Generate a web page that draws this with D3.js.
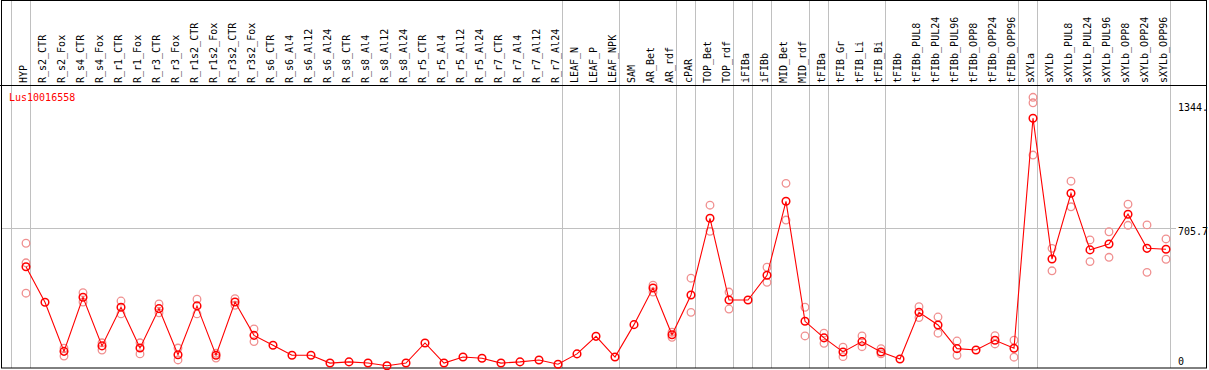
<!DOCTYPE html>
<html>
<head>
<meta charset="utf-8">
<script src="https://cdn.jsdelivr.net/npm/d3@7"></script>
<style>
  body { margin: 0; background: #fff; }
  text { font-family: "DejaVu Sans Mono", monospace; font-size: 10px; }
</style>
</head>
<body>
<div id="chart"></div>
<script>
// column labels
const samples = ["HYP", "R_s2_CTR", "R_s2_Fox", "R_s4_CTR", "R_s4_Fox", "R_r1_CTR", "R_r1_Fox",
  "R_r3_CTR", "R_r3_Fox", "R_r1s2_CTR", "R_r1s2_Fox", "R_r3s2_CTR", "R_r3s2_Fox", "R_s6_CTR",
  "R_s6_Al4", "R_s6_Al12", "R_s6_Al24", "R_s8_CTR", "R_s8_Al4", "R_s8_Al12", "R_s8_Al24",
  "R_r5_CTR", "R_r5_Al4", "R_r5_Al12", "R_r5_Al24", "R_r7_CTR", "R_r7_Al4", "R_r7_Al12", "R_r7_Al24",
  "LEAF_N", "LEAF_P", "LEAF_NPK", "SAM", "AR_Bet", "AR_rdf", "cPAR", "TOP_Bet", "TOP_rdf",
  "iFIBa", "iFIBb", "MID_Bet", "MID_rdf", "tFIBa", "tFIB_Gr", "tFIB_Li", "tFIB_Bi", "tFIBb",
  "tFIBb_PUL8", "tFIBb_PUL24", "tFIBb_PUL96", "tFIBb_OPP8", "tFIBb_OPP24", "tFIBb_OPP96",
  "sXYLa", "sXYLb", "sXYLb_PUL8", "sXYLb_PUL24", "sXYLb_PUL96", "sXYLb_OPP8", "sXYLb_OPP24", "sXYLb_OPP96"];

// number of columns in each tissue group
const groupSizes = [1, 28, 3, 3, 1, 2, 1, 1, 2, 1, 3, 7, 1, 7];

// mean expression
const means = [509, 327, 75, 352, 103, 301, 92, 294, 58, 308, 55, 328, 157, 106,
  55, 55, 15, 21, 15, 1, 15, 118, 15, 46, 40, 15, 21, 31, 9,
  62, 152, 46, 212, 400, 160, 364, 757, 338, 338, 465, 844, 229, 144, 72, 125, 72, 36,
  275, 210, 89, 82, 132, 91, 1270, 548, 885, 595, 625, 778, 603, 598];

// replicate values
const reps = [[629, 529, 373], [], [91, 51], [376, 328], [119, 82], [333, 267], [119, 62],
  [318, 273], [92, 31], [342, 267], [65, 41], [345, 311], [190, 125], [],
  [], [], [], [], [], [], [], [], [], [], [], [], [], [], [],
  [], [], [], [], [414, 379], [173, 147], [450, 275], [824, 690], [379, 292], [], [506, 429],
  [936, 748], [301, 154], [168, 116], [96, 48], [154, 99], [89, 62], [],
  [304, 248], [251, 168], [128, 55], [], [155, 113], [132, 45],
  [1377, 1349, 1081], [603, 488], [947, 816], [646, 535], [688, 557], [829, 721], [723, 480], [651, 547]];

// right side ticks
const ticks = [0, 705.7, 1344];
const tickLabels = ["0", "705.7", "1344."];

const title = "Lus10016558";

const width = 1209, height = 370;
const headerBottom = 85, plotBottom = 368;

const svg = d3.select("#chart")
  .append("svg")
  .attr("width", width)
  .attr("height", height);

const x = d3.scalePoint()
  .domain(samples)
  .range([26, 1166]);

const y = d3.scaleLinear()
  .domain([0, 1411.4])
  .range([366, 90.6]);

// group separators
let sepX = [x(samples[0]) - 14.5];
let idx = -1;
groupSizes.forEach(n => {
  idx += n;
  sepX.push(x(samples[idx]) + 4.5);
});

svg.append("g")
  .selectAll("line")
  .data(sepX)
  .enter()
  .append("line")
  .attr("x1", d => d)
  .attr("x2", d => d)
  .attr("y1", 0)
  .attr("y2", plotBottom)
  .attr("stroke", "#c0c0c0")
  .attr("stroke-width", 1);

// horizontal grid at the mid tick
svg.append("line")
  .attr("x1", 1)
  .attr("x2", 1176)
  .attr("y1", Math.round(y(ticks[1])) + 0.5)
  .attr("y2", Math.round(y(ticks[1])) + 0.5)
  .attr("stroke", "#c0c0c0");

// frame
svg.append("rect")
  .attr("x", 1.5)
  .attr("y", 0.5)
  .attr("width", 1205)
  .attr("height", plotBottom - 0.5)
  .attr("fill", "none")
  .attr("stroke", "black");

svg.append("line")
  .attr("x1", 0)
  .attr("x2", 1207)
  .attr("y1", headerBottom + 0.5)
  .attr("y2", headerBottom + 0.5)
  .attr("stroke", "black");

// column labels
svg.append("g")
  .selectAll("text")
  .data(samples)
  .enter()
  .append("text")
  .attr("transform", d => `translate(${x(d) + 1},${headerBottom - 2}) rotate(-90)`)
  .attr("fill", "black")
  .text(d => d);

// title
svg.append("text")
  .attr("x", 9)
  .attr("y", 101)
  .attr("fill", "red")
  .text(title);

// right labels
svg.append("g")
  .selectAll("text")
  .data(ticks)
  .enter()
  .append("text")
  .attr("x", 1178)
  .attr("y", (d, i) => i === 0 ? y(d) - 4 : y(d) + 4)
  .attr("dominant-baseline", "middle")
  .attr("fill", "black")
  .text((d, i) => tickLabels[i]);

// replicates
const repPts = [];
reps.forEach((r, i) => r.forEach(v => repPts.push({s: samples[i], v: v})));

svg.append("g")
  .selectAll("circle")
  .data(repPts)
  .enter()
  .append("circle")
  .attr("cx", d => x(d.s))
  .attr("cy", d => y(d.v))
  .attr("r", 3.8)
  .attr("fill", "none")
  .attr("stroke", "#f09090")
  .attr("stroke-width", 1.3);

// mean line
const line = d3.line()
  .x((d, i) => x(samples[i]))
  .y(d => y(d));

svg.append("path")
  .datum(means)
  .attr("fill", "none")
  .attr("stroke", "red")
  .attr("stroke-width", 1.1)
  .attr("d", line);

svg.append("g")
  .selectAll("circle")
  .data(means)
  .enter()
  .append("circle")
  .attr("cx", (d, i) => x(samples[i]))
  .attr("cy", d => y(d))
  .attr("r", 3.8)
  .attr("fill", "none")
  .attr("stroke", "red")
  .attr("stroke-width", 1.5);
</script>
</body>
</html>
